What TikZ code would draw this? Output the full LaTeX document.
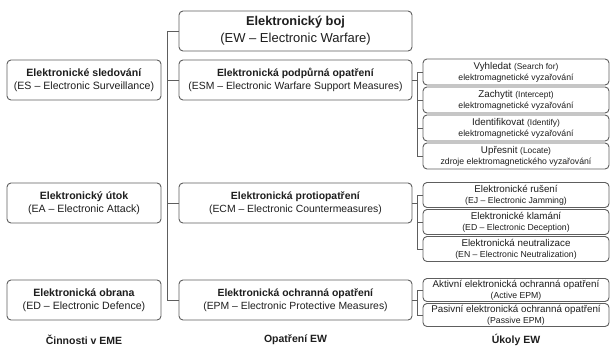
\documentclass[tikz,border=0pt]{standalone}
\usepackage{fontspec}
\setmainfont{Liberation Sans}
\usepackage{xcolor}
\usepackage{tikz}
\usetikzlibrary{positioning}

\definecolor{linegray}{HTML}{5E5E5E}
\definecolor{textgray}{HTML}{1E1E1E}
\newcommand{\parentxt}{\fontsize{8.4}{10}\selectfont}
\newcommand{\subtxt}{\fontsize{8.7}{10}\selectfont}

\tikzset{
    box/.style={draw=linegray, fill=white, rounded corners=4pt, align=center,
        inner sep=0pt, line width=0.9pt, text=textgray},
    mainbox/.style={box, minimum width=233pt, minimum height=40pt,
        font=\fontsize{10.4}{13.5}\selectfont},
    sidebox/.style={box, minimum width=154pt, minimum height=40pt,
        font=\fontsize{10.6}{13.5}\selectfont},
    taskbox/.style={box, minimum width=186pt, minimum height=#1,
        font=\fontsize{9.8}{11}\selectfont},
    link/.style={draw=linegray, line width=0.9pt},
    caption/.style={font=\bfseries\fontsize{10.5}{12}\selectfont, text=textgray}
}

\begin{document}
\begin{tikzpicture}[x=1pt, y=-1pt]
    \useasboundingbox (0,0) rectangle (610,349);

    % left column
    \node[sidebox] (es) at (84,80) {\textbf{Elektronické sledování}\\(ES -- Electronic Surveillance)};
    \node[sidebox] (ea) at (84,203) {\textbf{Elektronický útok}\\(EA -- Electronic Attack)};
    \node[sidebox] (ed) at (84,300) {\textbf{Elektronická obrana}\\(ED -- Electronic Defence)};

    % middle column
    \node[mainbox, font=\fontsize{13}{17}\selectfont] (ew) at (295.5,31)
        {{\bfseries\fontsize{12.8}{17}\selectfont Elektronický boj}\\(EW -- Electronic Warfare)};
    \node[mainbox] (esm) at (295.5,80) {\textbf{Elektronická podpůrná opatření}\\(ESM -- Electronic Warfare Support Measures)};
    \node[mainbox] (ecm) at (295.5,203) {\textbf{Elektronická protiopatření}\\(ECM -- Electronic Countermeasures)};
    \node[mainbox] (epm) at (295.5,300) {\textbf{Elektronická ochranná opatření}\\(EPM -- Electronic Protective Measures)};

    \foreach \child in {ew, esm, ecm, epm}
        \draw[link] (ew.west) -- ++(-11,0) |- (\child.west);

    % right column: ESM tasks
    \node[taskbox=26pt] (search) at (516,72) {Vyhledat {\parentxt(Search for)}\\{\subtxt elektromagnetické vyzařování}};
    \node[taskbox=26pt] (intercept) at (516,100) {Zachytit {\parentxt(Intercept)}\\{\subtxt elektromagnetické vyzařování}};
    \node[taskbox=26pt] (identify) at (516,128) {Identifikovat {\parentxt(Identify)}\\{\subtxt elektromagnetické vyzařování}};
    \node[taskbox=26pt] (locate) at (516,156) {Upřesnit {\parentxt(Locate)}\\{\subtxt zdroje elektromagnetického vyzařování}};

    % right column: ECM tasks
    \node[taskbox=25pt] (jam) at (516,195) {Elektronické rušení\\{\subtxt(EJ -- Electronic Jamming)}};
    \node[taskbox=25pt] (decept) at (516,222) {Elektronické klamání\\{\subtxt(ED -- Electronic Deception)}};
    \node[taskbox=25pt] (neutral) at (516,249) {Elektronická neutralizace\\{\subtxt(EN -- Electronic Neutralization)}};

    % right column: EPM tasks
    \node[taskbox=23pt] (active) at (516,290) {Aktivní elektronická ochranná opatření\\{\subtxt(Active EPM)}};
    \node[taskbox=23pt] (passive) at (516,315) {Pasivní elektronická ochranná opatření\\{\subtxt(Passive EPM)}};

    \foreach \child in {search, intercept, identify, locate}
        \draw[link] (esm.east) -- ++(5,0) |- (\child.west);
    \foreach \child in {jam, decept, neutral}
        \draw[link] (ecm.east) -- ++(5,0) |- (\child.west);
    \foreach \child in {active, passive}
        \draw[link] (epm.east) -- ++(5,0) |- (\child.west);

    % column captions
    \node[caption] (capeme) at (84,340) {Činnosti v EME};
    \node[caption] (capmeas) at (295.5,340) {Opatření EW};
    \node[caption] (captask) at (516,340) {Úkoly EW};
\end{tikzpicture}
\end{document}
